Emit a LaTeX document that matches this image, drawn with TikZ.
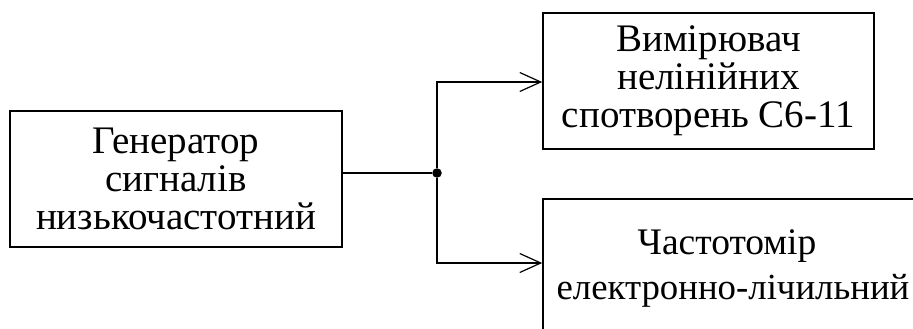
\documentclass[tikz,border=0pt]{standalone}
\usepackage{fontspec}
\setmainfont{Liberation Serif}
\usetikzlibrary{arrows.meta}
\begin{document}
\begin{tikzpicture}[x=1pt,y=-1pt,
  block/.style={draw, line width=1.6pt, rectangle, inner sep=0pt, align=center},
  label39/.style={font=\fontsize{39}{38}\selectfont},
  wire/.style={line width=1.4pt},
  feed/.style={wire, -{Straight Barb[length=21pt,width=19pt,line width=1.2pt]}},
  joint/.style={circle, fill=black, inner sep=0pt, minimum size=9.5pt}]
  \useasboundingbox (0,0) rectangle (913,329);
  \clip (0,0) rectangle (913,329);

  % signal source
  \node[block, label39, minimum width=332pt, minimum height=136pt] (gen) at (176,179)
    {Генератор\\сигналів\\низькочастотний};

  % distortion meter
  \node[block, label39, minimum width=331pt, minimum height=136pt] (meter) at (708.5,81)
    {Вимірювач\\нелінійних\\спотворень С6-11};

  % frequency counter (extends past the right and lower edges)
  \node[block, font=\fontsize{37.5}{45}\selectfont, minimum width=380pt, minimum height=140pt] (counter) at (733,269)
    {Частотомір\hspace*{12pt}\\{\fontsize{36.8}{45}\selectfont електронно-лічильний}};

  % branch point
  \node[joint] (j) at (437,173) {};

  \draw[wire] (j -| gen.east) -- (j);
  \draw[feed] (j) |- ([yshift=-1pt]meter.west);
  \draw[feed] (j) |- ([yshift=6pt]counter.west);
\end{tikzpicture}
\end{document}
